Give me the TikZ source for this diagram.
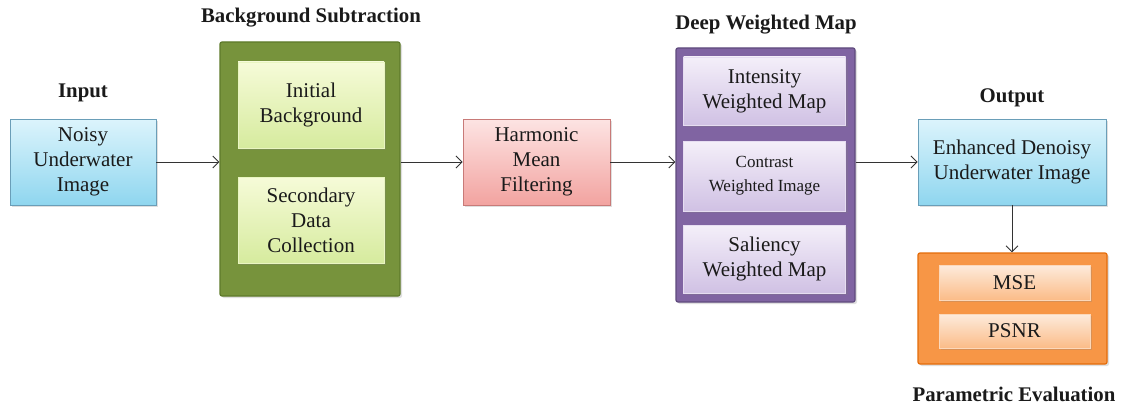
\documentclass[tikz,border=0pt]{standalone}
\usepackage{fontspec}
\setmainfont{Liberation Serif}
\usetikzlibrary{shadows,arrows.meta}
\definecolor{cyT}{HTML}{DCF4FC}\definecolor{cyB}{HTML}{8FD6EF}\definecolor{cyD}{HTML}{6A9EB8}
\definecolor{grO}{HTML}{77933C}\definecolor{grD}{HTML}{5E7A2A}\definecolor{grT}{HTML}{F6FBD8}\definecolor{grB}{HTML}{D6EB9E}
\definecolor{pkT}{HTML}{FDE4E3}\definecolor{pkB}{HTML}{F2A3A0}\definecolor{pkD}{HTML}{C87A78}
\definecolor{puO}{HTML}{8064A2}\definecolor{puD}{HTML}{5F4A7D}\definecolor{puT}{HTML}{F4EFF9}\definecolor{puB}{HTML}{D0C1E4}
\definecolor{orO}{HTML}{F79646}\definecolor{orD}{HTML}{E46C0A}\definecolor{orT}{HTML}{FDEBDC}\definecolor{orB}{HTML}{FBBC88}
\definecolor{arr}{HTML}{333333}
\definecolor{txt}{HTML}{1A1A1A}
\begin{document}
\begin{tikzpicture}[x=1pt,y=-1pt,
  base/.style={rectangle,inner sep=0pt,align=center,text=txt,font=\fontsize{21}{25}\selectfont,
    drop shadow={opacity=0.25,shadow xshift=2pt,shadow yshift=-2pt}},
  cybox/.style={base,top color=cyT,bottom color=cyB,draw=cyD,line width=0.8pt},
  pkbox/.style={base,top color=pkT,bottom color=pkB,draw=pkD,line width=0.8pt},
  grout/.style={base,fill=grO,draw=grD,line width=1.2pt,rounded corners=2pt},
  grin/.style={base,top color=grT,bottom color=grB,draw=grT!60!grB,line width=0.5pt},
  puout/.style={base,fill=puO,draw=puD,line width=1.2pt,rounded corners=2pt},
  puin/.style={base,top color=puT,bottom color=puB,draw=puT!60!puB,line width=0.5pt},
  orout/.style={base,fill=orO,draw=orD,line width=1.2pt,rounded corners=2pt},
  orin/.style={base,top color=orT,bottom color=orB,draw=orT!60!orB,line width=0.5pt},
  head/.style={font=\bfseries\fontsize{20.8}{24}\selectfont,text=txt,inner sep=0pt},
  link/.style={draw=arr,line width=0.9pt,-{Straight Barb[length=6pt,width=12pt,line width=0.9pt]}}
]
\useasboundingbox (0,0) rectangle (1122,404);
\fill[white] (0,0) rectangle (1122,404);

% Input
\node[head] (inlab) at (83,93) {Input};
\node[cybox,minimum width=146pt,minimum height=86pt] (in) at (83,162) {Noisy\\Underwater\\Image};

% Background subtraction
\node[head] (bglab) at (311,18) {Background Subtraction};
\node[grout,minimum width=180pt,minimum height=254pt] (bg) at (310,169) {};
\node[grin,minimum width=146pt,minimum height=86pt] (ib) at (311,105) {Initial\\Background};
\node[grin,minimum width=146pt,minimum height=86pt] (sd) at (311,220) {Secondary\\Data\\Collection};

% Harmonic mean
\node[pkbox,minimum width=147pt,minimum height=86pt] (hm) at (536.5,162) {Harmonic\\Mean\\Filtering};

% Deep weighted map
\node[head] (dwlab) at (766,25) {Deep Weighted Map};
\node[puout,minimum width=179pt,minimum height=254pt] (dw) at (765.5,175) {};
\node[puin,minimum width=162pt,minimum height=68pt] (iw) at (764.5,91) {Intensity\\Weighted Map};
\node[puin,minimum width=162pt,minimum height=70pt,font=\fontsize{17}{24}\selectfont] (cw) at (764.5,176) {Contrast\\Weighted Image};
\node[puin,minimum width=162pt,minimum height=68pt] (sw) at (764.5,259) {Saliency\\Weighted Map};

% Output
\node[head] (outlab) at (1012,98) {Output};
\node[cybox,minimum width=188pt,minimum height=86pt] (out) at (1012,162) {Enhanced Denoisy\\Underwater Image};

% Parametric evaluation
\node[orout,minimum width=189pt,minimum height=111pt] (pe) at (1012.5,308.5) {};
\node[orin,minimum width=151pt,minimum height=35pt] (mse) at (1014.5,282.5) {MSE};
\node[orin,minimum width=151pt,minimum height=34pt] (psnr) at (1014.5,331) {PSNR};
\node[head] (pelab) at (1014,394) {Parametric Evaluation};

% connectors
\draw[link] (in.east) -- (in.east -| bg.west);
\draw[link] (hm.west -| bg.east) -- (hm.west);
\draw[link] (hm.east) -- (hm.east -| dw.west);
\draw[link] (out.west -| dw.east) -- (out.west);
\draw[link] (out.south) -- (out.south |- pe.north);
\end{tikzpicture}
\end{document}
